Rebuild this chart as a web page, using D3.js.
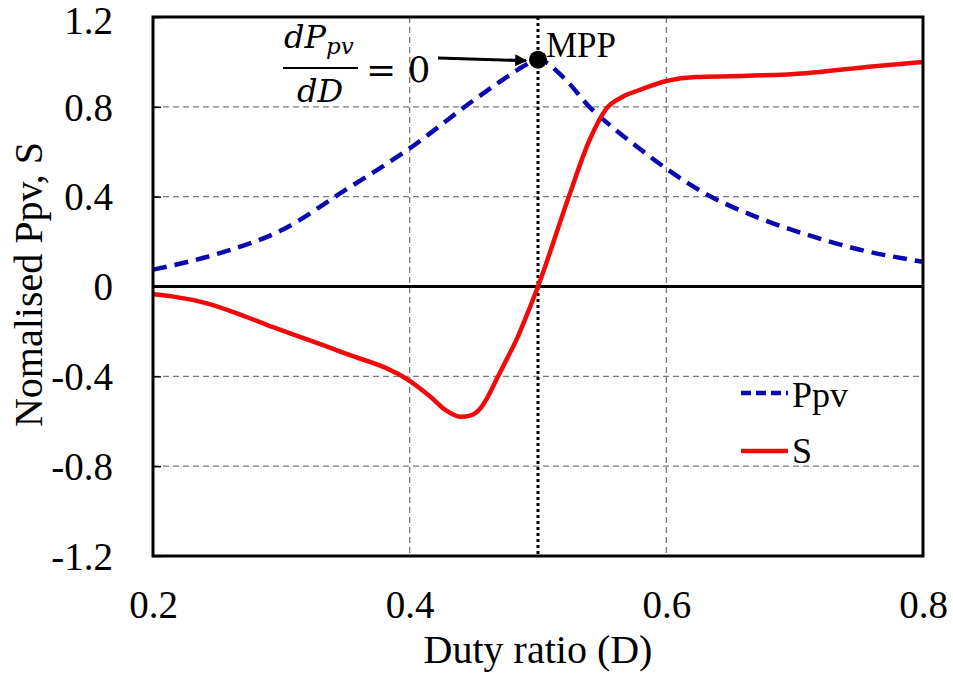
<!DOCTYPE html>
<html>
<head>
<meta charset="utf-8">
<script src="https://cdn.jsdelivr.net/npm/d3@7"></script>
<style>
  html, body { margin: 0; padding: 0; background: #fff; }
  svg { display: block; }
</style>
</head>
<body>
<svg id="chart" width="953" height="677" font-family="Liberation Serif"></svg>
<script>
// Duty ratio samples and normalised curves
const dutyPpv = [0.2, 0.25, 0.3, 0.35, 0.4, 0.45, 0.475, 0.49, 0.5, 0.52, 0.54, 0.56, 0.58, 0.6, 0.63, 0.67, 0.71, 0.75, 0.8];
const ppvValues = [0.075, 0.145, 0.25, 0.43, 0.615, 0.83, 0.93, 0.985, 1.01, 0.93, 0.80, 0.70, 0.61, 0.525, 0.415, 0.31, 0.23, 0.165, 0.11];

const dutyS = [0.2, 0.216, 0.242, 0.268, 0.293, 0.346, 0.4, 0.416, 0.428, 0.44, 0.447, 0.454, 0.461, 0.468, 0.476, 0.483, 0.49, 0.5, 0.524, 0.54, 0.553, 0.566, 0.579, 0.6, 0.623, 0.657, 0.709, 0.76, 0.8];
const sValues = [-0.035, -0.045, -0.075, -0.125, -0.18, -0.29, -0.42, -0.49, -0.55, -0.58, -0.575, -0.55, -0.49, -0.41, -0.32, -0.24, -0.145, 0.0, 0.40, 0.65, 0.79, 0.845, 0.875, 0.915, 0.933, 0.937, 0.95, 0.98, 1.0];

const xTicks = [0.2, 0.4, 0.6, 0.8];
const yTicks = [-1.2, -0.8, -0.4, 0, 0.4, 0.8, 1.2];
const mpp = { d: 0.5, v: 1.01 };

const SERIF = "Liberation Serif";
const MATHF = "DejaVu Serif";

const svg = d3.select("#chart");
const margin = { left: 153, right: 30, top: 17, bottom: 121 };
const W = 953, H = 677;
const x = d3.scaleLinear().domain([0.2, 0.8]).range([margin.left, W - margin.right]);
const y = d3.scaleLinear().domain([-1.2, 1.2]).range([H - margin.bottom, margin.top]);
const fmt = d => d === 0 ? "0" : d3.format(".1f")(d).replace("\u2212", "-");

// grid lines
const grid = svg.append("g");
grid.selectAll("line.gx").data(xTicks.slice(1, -1)).join("line")
  .attr("x1", d => x(d)).attr("x2", d => x(d))
  .attr("y1", y(1.2)).attr("y2", y(-1.2))
  .attr("stroke", "#7a7a7a").attr("stroke-width", 1.3).attr("stroke-dasharray", "6,4");
grid.selectAll("line.gy").data(yTicks.filter(t => t !== 0 && Math.abs(t) !== 1.2)).join("line")
  .attr("x1", x(0.2)).attr("x2", x(0.8))
  .attr("y1", d => y(d)).attr("y2", d => y(d))
  .attr("stroke", "#7a7a7a").attr("stroke-width", 1.3).attr("stroke-dasharray", "6,4");

// zero line
svg.append("line")
  .attr("x1", x(0.2)).attr("x2", x(0.8)).attr("y1", y(0)).attr("y2", y(0))
  .attr("stroke", "#000").attr("stroke-width", 3);

// MPP vertical marker
svg.append("line")
  .attr("x1", x(mpp.d)).attr("x2", x(mpp.d)).attr("y1", y(1.2)).attr("y2", y(-1.2))
  .attr("stroke", "#000").attr("stroke-width", 3).attr("stroke-dasharray", "3,3");

// axes
const yAxis = d3.axisLeft(y).tickValues(yTicks).tickSize(-8).tickPadding(40).tickFormat(fmt);
const gy = svg.append("g").attr("transform", `translate(${x(0.2)},0)`).call(yAxis)
  .attr("font-family", SERIF).attr("font-size", 39);
gy.select(".domain").remove();
gy.selectAll(".tick line").attr("stroke", "#000").attr("stroke-width", 1.5);
gy.selectAll(".tick text").attr("fill", "#000").attr("dy", d => d === 1.2 ? "0.42em" : "0.34em");

const xAxis = d3.axisBottom(x).tickValues(xTicks).tickSize(0).tickPadding(0).tickFormat(fmt);
const gx = svg.append("g").attr("transform", `translate(0,${y(-1.2)})`).call(xAxis)
  .attr("font-family", SERIF).attr("font-size", 39);
gx.select(".domain").remove();
gx.selectAll(".tick text").attr("fill", "#000").attr("y", 62).attr("dy", null);

// curves
const linePpv = d3.line().x((d, i) => x(dutyPpv[i])).y(d => y(d)).curve(d3.curveMonotoneX);
const lineS = d3.line().x((d, i) => x(dutyS[i])).y(d => y(d)).curve(d3.curveMonotoneX);

svg.append("path").datum(ppvValues).attr("d", linePpv)
  .attr("fill", "none").attr("stroke", "#0a0ab0").attr("stroke-width", 4.5)
  .attr("stroke-dasharray", "14,8");
svg.append("path").datum(sValues).attr("d", lineS)
  .attr("fill", "none").attr("stroke", "#f00a0a").attr("stroke-width", 4.5);

// frame
svg.append("rect")
  .attr("x", x(0.2)).attr("y", y(1.2))
  .attr("width", x(0.8) - x(0.2)).attr("height", y(-1.2) - y(1.2))
  .attr("fill", "none").attr("stroke", "#000").attr("stroke-width", 3);

// MPP point and annotation
svg.append("circle").attr("cx", x(mpp.d)).attr("cy", y(mpp.v)).attr("r", 9).attr("fill", "#000");
svg.append("text").attr("x", x(mpp.d) + 8).attr("y", 57)
  .attr("font-family", SERIF).attr("font-size", 35).text("MPP");

svg.append("defs").append("marker").attr("id", "arrow")
  .attr("viewBox", "0 0 10 10").attr("refX", 9).attr("refY", 5)
  .attr("markerWidth", 5).attr("markerHeight", 4).attr("orient", "auto")
  .append("path").attr("d", "M0,0 L10,5 L0,10 Z").attr("fill", "#000");
svg.append("line")
  .attr("x1", 438).attr("y1", 58).attr("x2", x(mpp.d) - 12).attr("y2", y(mpp.v) + 1)
  .attr("stroke", "#000").attr("stroke-width", 3).attr("marker-end", "url(#arrow)");

// derivative expression dPpv/dD = 0
const math = svg.append("g").attr("font-family", MATHF);
const num = math.append("text").attr("x", 284).attr("y", 48).attr("font-size", 32).attr("font-style", "italic");
num.append("tspan").text("dP");
num.append("tspan").attr("font-size", 23).attr("dy", 6).text("pv");
math.append("line").attr("x1", 283).attr("x2", 358).attr("y1", 68).attr("y2", 68)
  .attr("stroke", "#000").attr("stroke-width", 2);
math.append("text").attr("x", 297).attr("y", 102).attr("font-size", 32).attr("font-style", "italic").text("dD");
math.append("text").attr("x", 366).attr("y", 82).attr("font-size", 36).text("= 0");

// legend
const legend = svg.append("g").attr("font-family", SERIF).attr("font-size", 36);
legend.append("line").attr("x1", 741).attr("x2", 788).attr("y1", 393).attr("y2", 393)
  .attr("stroke", "#0a0ab0").attr("stroke-width", 4.5).attr("stroke-dasharray", "10,5");
legend.append("text").attr("x", 792).attr("y", 407).text("Ppv");
legend.append("line").attr("x1", 741).attr("x2", 788).attr("y1", 451).attr("y2", 451)
  .attr("stroke", "#f00a0a").attr("stroke-width", 4.5);
legend.append("text").attr("x", 792).attr("y", 463).text("S");

// axis titles
svg.append("text").attr("x", (x(0.2) + x(0.8)) / 2).attr("y", 663)
  .attr("font-family", SERIF).attr("text-anchor", "middle").attr("font-size", 40).text("Duty ratio (D)");
svg.append("text").attr("transform", `translate(42,${y(0) - 2}) rotate(-90)`)
  .attr("font-family", SERIF).attr("text-anchor", "middle").attr("font-size", 40).text("Nomalised Ppv, S");
</script>
</body>
</html>
